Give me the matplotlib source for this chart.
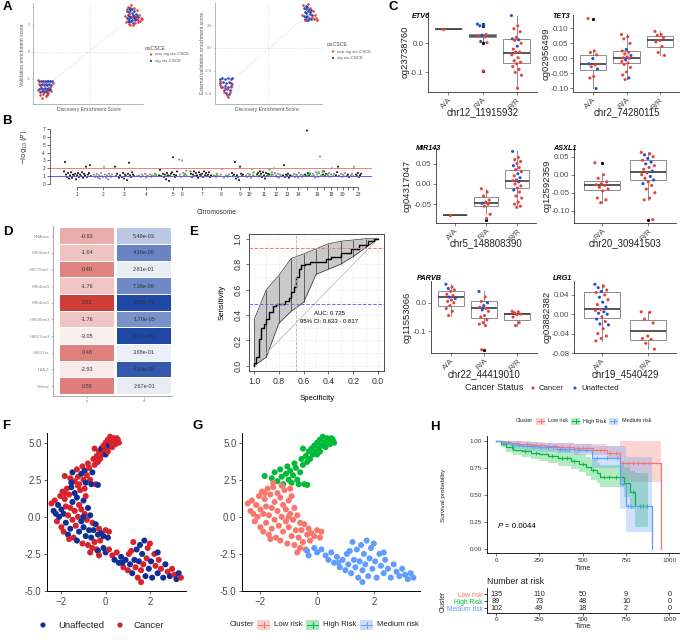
import numpy as np
import matplotlib
matplotlib.use("Agg")
import matplotlib.pyplot as plt
from matplotlib.colors import LinearSegmentedColormap, Normalize
from matplotlib.patches import Rectangle

plt.rcParams["font.family"] = ["Liberation Sans", "DejaVu Sans"]

# ---------------- A: enrichment scores ----------------
a1_sig_x = [4.1, 4.3, 4.5, 4.7, 4.9, 5.1, 4.2, 4.4, 4.6, 4.8, 5.0, 5.2, 4.1, 4.3, 4.5, 4.7, 4.9, 5.1, 4.2, 4.4, 4.6, 4.8, 5.0, 4.3, 4.5, 4.7, 4.9, 5.3,
            -5.6, -5.4, -5.2, -5.0, -4.8, -4.6, -4.4, -4.2, -5.5, -5.3, -5.1, -4.9, -4.7, -4.5, -4.3, -5.6, -5.4, -5.2, -5.0, -4.8, -4.6, -4.4, -5.5, -5.3, -5.1, -4.9, -4.7, -4.5]
a1_sig_y = [4.5, 4.4, 4.6, 4.3, 4.5, 4.2, 4.1, 4.0, 3.9, 4.1, 3.8, 4.0, 3.7, 3.6, 3.8, 3.5, 3.7, 3.6, 3.4, 3.3, 3.4, 3.2, 3.5, 4.8, 4.9, 4.7, 4.0, 3.9,
            -3.3, -3.2, -3.3, -3.2, -3.3, -3.2, -3.3, -3.2, -3.7, -3.6, -3.7, -3.6, -3.7, -3.6, -3.7, -4.1, -4.0, -4.1, -4.0, -4.1, -4.0, -4.1, -4.5, -4.4, -4.5, -4.4, -4.5, -4.3]
a1_non_x = [3.9, 4.0, 4.2, 4.4, 4.6, 4.8, 5.0, 5.2, 5.4, 5.6, 5.8, 4.5, 4.9, 5.5, 4.1, 5.3, 4.7, 4.4, 5.1, 5.7,
            -5.8, -5.7, -5.5, -5.2, -4.9, -4.6, -4.3, -4.1, -5.3, -5.0, -4.8, -5.4, -4.4, -5.1, -4.7, -5.6]
a1_non_y = [4.0, 3.3, 5.0, 3.1, 5.2, 3.0, 3.2, 4.6, 3.5, 3.4, 3.6, 3.0, 4.8, 4.1, 4.7, 3.3, 3.9, 4.2, 3.9, 3.7,
            -3.1, -4.2, -4.8, -4.7, -4.9, -4.6, -4.4, -3.5, -5.1, -4.3, -4.8, -3.9, -3.9, -3.4, -4.7, -3.6]
a2_sig_x = [3.9, 4.1, 4.3, 4.5, 4.7, 4.0, 4.2, 4.4, 4.6, 4.8, 3.9, 4.1, 4.3, 4.5, 4.7, 4.2, 4.4, 4.6, 4.0, 4.3,
            -5.3, -5.0, -4.7, -4.4, -4.1, -3.9, -5.2, -4.9, -4.6, -4.3, -4.0, -5.0, -4.7, -4.4, -4.1, -4.8, -4.5, -4.2, -4.6, -4.3]
a2_sig_y = [4.4, 4.3, 4.5, 4.2, 4.1, 3.9, 3.8, 4.0, 3.7, 3.6, 3.5, 3.4, 3.5, 3.3, 3.2, 4.6, 3.1, 3.9, 3.2, 3.0,
            -3.4, -3.3, -3.4, -3.3, -3.4, -3.3, -3.8, -3.7, -3.8, -3.7, -3.8, -4.2, -4.1, -4.2, -4.1, -4.6, -4.5, -4.6, -4.9, -5.0]
a2_non_x = [3.7, 3.8, 4.0, 4.4, 4.8, 5.0, 5.2, 5.3, 4.6, 4.2, 4.9, 5.1,
            -5.3, -5.1, -4.8, -4.5, -4.2, -4.0, -4.4, -4.7, -3.9, -5.2]
a2_non_y = [3.6, 4.7, 3.0, 4.8, 3.4, 3.2, 3.3, 3.1, 4.4, 3.1, 4.0, 3.6,
            -3.6, -4.3, -4.8, -5.1, -4.8, -4.3, -5.3, -4.4, -3.9, -4.0]

# ---------------- B: Manhattan ----------------
chrom_ticks = [77, 103, 124, 146, 173, 182, 202, 221, 240, 249, 264, 276, 287, 298, 307, 317, 324, 331, 337, 343, 348, 353, 358]
chrom_labels = ["1", "2", "3", "4", "5", "6", "7", "8", "9", "10", "11", "12", "13", "14", "", "16", "", "18", "", "20", "", "", "23"]
chrom_edges = [92.5, 113.5, 135.5, 157.5, 178.5, 189, 212.5, 230.5, 245, 255.5, 270, 282, 292, 304, 311, 322, 327, 335, 340, 346, 350, 355]
mh_x = [64, 65, 66, 67, 68, 69, 70, 71, 72, 73, 74, 75, 76, 77, 78, 79, 80, 81, 82, 83, 84, 85, 86, 87, 88, 89, 90, 91,
        94, 95, 96, 97, 98, 99, 100, 101, 102, 103, 104, 105, 106, 107, 108, 109, 110, 111, 112,
        115, 116, 117, 119, 120, 122, 123, 124, 125, 126, 127, 128, 129, 130, 131, 132, 133, 134,
        137, 139, 141, 142, 143, 145, 146, 147, 148, 150, 151, 152, 154, 155, 156,
        159, 160, 161, 163, 164, 165, 166, 167, 168, 169, 170, 171, 172, 173, 174, 175, 176, 177,
        179, 180, 181, 182, 183, 184, 185, 186, 187,
        191, 192, 193, 194, 195, 196, 197, 198, 199, 200, 201, 202, 203, 204, 205, 206, 207, 208, 209, 210, 211,
        214, 216, 217, 219, 221, 222, 224, 226, 228, 229,
        232, 233, 234, 235, 236, 237, 238, 239, 240, 241, 242, 243,
        246, 247, 248, 249, 250, 251, 252, 253, 254,
        257, 258, 259, 260, 261, 262, 263, 264, 265, 266, 267, 268, 269,
        271, 272, 273, 274, 275, 276, 277, 278, 279, 280, 281,
        283, 284, 285, 286, 287, 288, 289, 290, 291,
        293, 294, 295, 296, 297, 298, 299, 300, 301, 302, 303,
        305, 306, 307, 308, 309, 310,
        312, 313, 314, 315, 316, 317, 318, 319, 320, 321,
        323, 324, 325, 326, 328, 329, 330, 331, 332, 333, 334,
        336, 337, 338, 339, 341, 342, 343, 344, 345, 347, 348, 349,
        351, 352, 353, 354, 356, 357, 358, 359, 360, 361]
mh_y = [1.6, 2.8, 1.2, 0.9, 1.4, 0.7, 1.1, 1.5, 0.8, 1.2, 1.0, 1.3, 0.6, 1.1, 1.4, 0.9, 1.2, 1.0, 1.5, 0.8, 1.3, 1.1, 2.2, 0.9, 1.2, 1.4, 2.4, 1.0,
        1.2, 0.9, 1.0, 1.3, 0.8, 1.1, 0.7, 1.4, 1.0, 0.9, 2.2, 1.2, 0.8, 1.1, 0.6, 1.3, 1.0, 0.9, 1.2,
        2.2, 1.0, 1.3, 0.8, 1.1, 0.9, 1.4, 0.7, 1.2, 1.0, 0.5, 1.3, 2.7, 1.1, 0.9, 1.5, 1.2, 1.0,
        1.0, 1.1, 0.9, 1.2, 1.0, 1.3, 0.8, 1.1, 1.0, 1.2, 0.9, 1.1, 1.0, 1.3, 1.1,
        1.1, 1.8, 1.0, 1.3, 0.9, 1.2, 0.6, 1.4, 1.1, 0.4, 1.0, 1.3, 1.5, 3.4, 1.2, 0.9, 1.1, 1.6,
        3.1, 1.2, 0.9, 3.0, 1.4, 1.1, 1.3, 1.7, 1.0,
        1.3, 0.9, 1.2, 1.6, 1.0, 1.4, 1.1, 0.8, 1.5, 1.2, 1.0, 1.3, 0.9, 1.6, 1.1, 1.4, 1.0, 1.2, 1.5, 0.9, 1.1,
        1.1, 0.9, 1.3, 1.0, 1.2, 1.9, 0.8, 1.1, 1.0, 1.2,
        1.4, 1.0, 1.2, 2.8, 0.7, 1.1, 0.9, 0.5, 2.2, 1.3, 1.0, 1.2,
        1.1, 0.9, 1.3, 1.0, 1.2, 0.8, 1.9, 1.1, 1.0,
        1.2, 1.4, 1.0, 1.6, 1.3, 0.9, 1.5, 1.1, 0.7, 1.4, 1.0, 1.3, 1.2,
        1.0, 1.5, 1.2, 2.0, 1.4, 1.1, 0.9, 1.3, 0.8, 1.2, 1.0,
        1.1, 2.4, 0.9, 1.2, 1.0, 1.3, 0.8, 1.1, 1.0,
        1.0, 1.3, 0.9, 1.2, 1.1, 0.8, 1.4, 1.0, 1.2, 0.9, 1.1,
        1.2, 1.0, 6.8, 1.4, 1.1, 1.3,
        1.0, 1.3, 1.1, 0.8, 1.5, 1.2, 0.9, 1.4, 3.5, 1.1,
        1.2, 1.6, 1.0, 1.3, 1.1, 1.4, 0.9, 1.2, 2.0, 1.0, 1.3,
        1.1, 1.5, 2.2, 1.0, 1.3, 0.9, 1.2, 1.0, 1.4, 1.0, 1.2, 0.9,
        1.1, 1.3, 1.0, 2.2, 1.2, 1.0, 1.4, 0.9, 1.1, 1.3]
hl_x = [155, 165, 185, 190, 216, 227, 253, 260, 269, 271, 307, 309, 318, 322, 327]
hl_y = [1.3, 1.2, 1.3, 1.6, 1.2, 1.0, 1.5, 1.2, 1.9, 1.3, 1.2, 1.4, 1.5, 1.7, 1.3]

# ---------------- C: methylation by genotype ----------------
etv6_groups = ["A/A", "R/A", "R/R"]
etv6_vals = [[0.05],
             [0.066, 0.062, 0.06, 0.03, 0.028, 0.025, 0.022, 0.006, 0.002, -0.095],
             [0.095, 0.06, 0.05, 0.04, 0.02, 0.015, 0.012, 0.01, 0.0, -0.01, -0.02, -0.03, -0.03, -0.04, -0.05,
              -0.06, -0.065, -0.07, -0.08, -0.09, -0.1, -0.11, -0.155]]
etv6_status = ["C", "UUUCUCCUCC", "UCCCCUUCCUCCCCCCCCCCCCC"]
etv6_box = [(0.05, 0.05, 0.05, 0.05, 0.05, []), (0.02, 0.026, 0.031, 0.006, 0.031, [0.066, 0.062, 0.06, 0.002, -0.095]),
            (-0.068, -0.032, 0.015, -0.155, 0.095, [])]

tet3_groups = ["A/A", "R/A", "R/R"]
tet3_vals = [[0.133, 0.025, 0.02, 0.012, 0.0, -0.018, -0.022, -0.028, -0.035, -0.06, -0.065, -0.1],
             [0.08, 0.072, 0.065, 0.05, 0.03, 0.025, 0.02, 0.015, 0.01, 0.005, 0.002, 0.0, -0.005, -0.01, -0.015,
              -0.02, -0.03, -0.045, -0.055, -0.065, -0.07],
             [0.09, 0.08, 0.077, 0.07, 0.06, 0.055, 0.04, 0.02, 0.01]]
tet3_status = ["CCCCUUCCUCCU", "CCCCUCCCUCCCUCCCCCCUC", "CCCCCCCCC"]
tet3_box = [(-0.038, -0.018, 0.012, -0.1, 0.025, [0.133]), (-0.016, 0.001, 0.025, -0.07, 0.08, []),
            (0.037, 0.061, 0.074, 0.01, 0.09, [])]

mir143_groups = ["A/A", "R/A", "R/R"]
mir143_vals = [[-0.077],
               [-0.012, -0.02, -0.03, -0.04, -0.045, -0.048, -0.05, -0.055, -0.075, -0.085],
               [0.08, 0.065, 0.06, 0.055, 0.05, 0.045, 0.04, 0.035, 0.03, 0.025, 0.02, 0.015, 0.01, 0.008, 0.005,
                0.0, -0.005, -0.01, -0.015, -0.02, -0.03, -0.035, -0.045, -0.05, -0.055, -0.058]]
mir143_status = ["C", "CCCCCUCCCC", "UCCCCUCCCUCUCCUCCCUCCCCCCC"]
mir143_box = [(-0.077, -0.077, -0.077, -0.077, -0.077, []), (-0.055, -0.047, -0.033, -0.075, -0.012, [-0.088]),
              (-0.01, 0.008, 0.033, -0.058, 0.08, [])]

asxl1_groups = ["R/A", "R/R"]
asxl1_vals = [[0.033, 0.0, -0.01, -0.02, -0.025, -0.028, -0.03, -0.035, -0.04, -0.045, -0.065, -0.07, -0.078],
              [0.062, 0.058, 0.055, 0.05, 0.045, 0.04, 0.035, 0.03, 0.025, 0.02, 0.015, 0.01, 0.005, 0.0, -0.005,
               -0.01, -0.015, -0.02, -0.025, -0.03, -0.04, -0.05, -0.065, -0.07, -0.125]]
asxl1_status = ["CCCCCCCCCCCCC", "CCUCUCUUCCCUCCUCUCUCCCCCC"]
asxl1_box = [(-0.043, -0.028, -0.018, -0.078, 0.0, [0.033]), (-0.015, 0.007, 0.04, -0.07, 0.062, [-0.125])]

parvb_groups = ["A/A", "R/A", "R/R"]
parvb_vals = [[0.065, 0.055, 0.05, 0.045, 0.04, 0.03, 0.025, 0.02, 0.015, 0.01, 0.005, 0.0, -0.01, -0.02, -0.03, -0.045],
              [0.04, 0.02, 0.005, 0.0, -0.01, -0.015, -0.02, -0.025, -0.03, -0.045, -0.05, -0.06, -0.07, -0.075, -0.08, -0.165],
              [-0.03, -0.032, -0.035, -0.04, -0.042, -0.05, -0.07, -0.08]]
parvb_status = ["UCUCCCCUUCCCCCCC", "UCCUUCCUCCCCCCCC", "CCCCCCCC"]
parvb_box = [(-0.01, 0.02, 0.04, -0.045, 0.065, []), (-0.055, -0.02, 0.005, -0.08, 0.04, [-0.165]),
             (-0.06, -0.04, -0.035, -0.08, -0.03, [])]

lrg1_groups = ["A/A", "R/A"]
lrg1_vals = [[0.062, 0.058, 0.055, 0.05, 0.047, 0.045, 0.04, 0.035, 0.03, 0.025, 0.02, 0.015, 0.01, 0.008, 0.005,
              0.002, 0.0, -0.005, -0.01, -0.015, -0.02, -0.022, -0.03, -0.04, -0.045, -0.05, -0.055],
             [0.005, 0.004, -0.01, -0.018, -0.045, -0.05, -0.052, -0.06, -0.072]]
lrg1_status = ["UCUCUCCUCUCUCCUUUCUCUUCCCCC", "CCCCCCCCC"]
lrg1_box = [(-0.008, 0.01, 0.046, -0.055, 0.062, []), (-0.053, -0.035, -0.012, -0.072, 0.005, [])]

# ---------------- D: chromatin enrichment ----------------
marks = ["RNAseq", "H3K9me3", "H3K79me2", "H3K4me3", "H3K4me1", "H3K36me3", "H3K27me3", "H3K27ac", "H2A.Z", "DNase"]
mark_p = [-0.93, -1.64, 0.40, -1.76, 2.62, -1.76, -3.05, 0.48, -2.93, 0.55]
mark_d = [5.46e-03, 4.16e-06, 2.81e-01, 7.38e-06, 6.55e-09, 1.70e-05, 6.37e-09, 3.68e-01, 4.13e-08, 2.67e-01]

# ---------------- E: ROC ----------------
roc_spec = [1.0, 1.0, 0.98, 0.98, 0.96, 0.96, 0.94, 0.94, 0.92, 0.92, 0.90, 0.90, 0.88, 0.88, 0.85, 0.85, 0.82, 0.82,
            0.75, 0.75, 0.72, 0.72, 0.70, 0.70, 0.68, 0.68, 0.66, 0.66, 0.64, 0.64, 0.62, 0.62, 0.59, 0.59, 0.55, 0.55,
            0.42, 0.42, 0.38, 0.38, 0.30, 0.30, 0.22, 0.22, 0.15, 0.15, 0.08, 0.08, 0.03, 0.03, 0.0]
roc_sens = [0.0, 0.02, 0.02, 0.07, 0.07, 0.21, 0.21, 0.30, 0.30, 0.33, 0.33, 0.37, 0.37, 0.42, 0.42, 0.47, 0.47, 0.49,
            0.49, 0.51, 0.51, 0.53, 0.53, 0.58, 0.58, 0.62, 0.62, 0.70, 0.70, 0.76, 0.76, 0.79, 0.79, 0.80, 0.80, 0.82,
            0.82, 0.84, 0.84, 0.86, 0.86, 0.89, 0.89, 0.92, 0.92, 0.95, 0.95, 0.98, 0.98, 1.0, 1.0]
ci_spec = [1.0, 0.9, 0.8, 0.7, 0.6, 0.5, 0.4, 0.3, 0.2, 0.1, 0.0]
ci_lo = [0.0, 0.07, 0.335, 0.43, 0.50, 0.72, 0.76, 0.80, 0.86, 0.93, 1.0]
ci_hi = [0.36, 0.60, 0.71, 0.845, 0.88, 0.92, 0.96, 0.98, 0.99, 1.0, 1.0]

# ---------------- F/G: UMAP ----------------
high_x = [-1.85, -1.6, -1.5, -1.4, -1.3, -1.25, -1.1, -1.05, -1.0, -0.95, -0.85, -0.8, -0.75, -0.7, -0.6, -0.55, -0.5, -0.45,
          -0.4, -0.35, -0.3, -0.25, -0.2, -0.15, -0.1, -0.05, 0.0, 0.05, 0.1, 0.15, 0.2, 0.25, 0.3, 0.35, 0.4, 0.45, 0.5,
          0.55, 0.6, -1.2, -0.9, -0.65, -0.35, 0.0, -0.5, 0.1]
high_y = [2.75, 2.6, 3.0, 2.4, 3.2, 2.7, 2.9, 3.4, 2.5, 3.1, 2.8, 3.6, 3.3, 2.5, 3.0, 3.9, 3.5, 2.2, 4.1, 3.7, 4.4, 3.9,
          4.6, 4.2, 4.8, 4.4, 5.0, 4.6, 5.2, 4.8, 5.4, 5.0, 4.7, 5.3, 5.1, 4.9, 5.3, 5.2, 5.0, 2.2, 2.3, 2.2, 2.15, 4.2,
          4.6, 4.4]
high_status = "CCUCCCUCCUCCCCUCCCCCCCUCCCCCCUCCCCCCCCCCUUUUCC"
low_x = [-2.45, -2.35, -2.3, -2.2, -2.15, -2.1, -2.05, -2.0, -2.0, -1.95, -1.9, -1.9, -1.85, -1.8, -1.8, -1.75, -1.7, -1.7,
         -1.65, -1.6, -1.6, -1.55, -1.5, -1.5, -1.45, -1.4, -1.4, -1.35, -1.3, -1.3, -1.25, -1.2, -1.2, -1.15, -1.1, -1.1,
         -1.05, -1.0, -1.0, -0.95, -0.9, -0.9, -0.85, -0.8, -0.8, -0.75, -0.7, -0.7, -0.65, -0.6, -0.6, -0.55, -0.5, -0.45,
         -0.4, -0.35, -0.3, -0.25, -0.2, -0.1, 0.0, 0.1, 0.15, -1.85, -1.55, -1.25, -0.95, -2.25, -1.65, -1.0]
low_y = [0.9, 0.4, 1.1, -0.3, 0.8, 0.0, 1.4, -0.7, 0.5, 1.7, -1.0, 0.2, 1.2, -0.4, 0.7, 1.9, -1.2, 0.1, 1.5, -0.8, 0.6,
         2.0, -0.2, 1.0, -1.4, 0.4, 1.6, -0.6, 1.3, -1.6, 0.0, 0.8, -1.0, 1.8, -0.3, 0.5, -1.8, 1.1, -0.7, 0.2, -1.3, 1.4,
         -0.2, 0.6, -1.9, -0.9, 0.1, -2.4, -1.4, -0.4, -2.1, -0.9, -1.7, -0.5, -2.2, -1.2, -0.8, -1.6, -1.1, -1.3, -0.9,
         -1.4, -1.0, 1.6, 2.3, 2.1, 1.9, 0.2, -1.5, 0.0]
low_status = "CUCCUUCCUCCUCUCCUCCUCUCUCCUCUUCCUCUCCUUCUCCUCUUCUCCUCUCUCCUUCUCCUCCUCU"
med_x = [-0.35, -0.3, -0.1, 0.0, 0.15, 0.3, 0.4, 0.5, 0.6, 0.7, 0.8, 0.9, 1.0, 1.05, 1.1, 1.2, 1.25, 1.3, 1.35, 1.4,
         1.45, 1.5, 1.55, 1.6, 1.6, 1.65, 1.7, 1.75, 1.8, 1.85, 1.9, 1.95, 2.0, 2.05, 2.1, 2.2, 2.25, 2.35, 2.4, 2.5,
         2.6, 2.7, 2.8, 2.9, 3.0, 3.1, 3.2, 3.3, 3.4, 2.35, 1.15, 0.75]
med_y = [-2.3, -2.6, -2.1, -2.4, -2.2, -2.6, -2.9, -2.4, -3.1, -2.7, -3.4, -2.9, -3.6, -2.5, -3.2, -3.8, -1.7, -2.9,
         -3.4, -2.2, -4.1, -3.0, -1.9, -3.6, -4.4, -2.5, -3.2, -1.6, -4.0, -2.8, -2.1, -3.5, -1.8, -3.0, -4.1, -2.5,
         -3.3, -3.8, -2.9, -3.5, -4.1, -3.2, -3.7, -4.0, -3.5, -3.9, -4.2, -3.8, -4.1, -2.4, -2.3, -3.1]
med_status = "UCUUCCUCUUCUCCUUCUCUCUUCCUCUUCCUCUUCCUCCUUCUCCUUCUCU"

# ---------------- H: Kaplan-Meier ----------------
km_low_t = [0, 40, 80, 130, 200, 280, 360, 450, 560, 640, 715, 952]
km_low_s = [1.0, 0.99, 0.98, 0.97, 0.96, 0.95, 0.94, 0.935, 0.92, 0.89, 0.80, 0.0]
km_low_lo = [1.0, 0.97, 0.955, 0.94, 0.93, 0.915, 0.9, 0.89, 0.87, 0.83, 0.62, 0.0]
km_low_hi = [1.0, 1.0, 1.0, 1.0, 0.99, 0.985, 0.98, 0.975, 0.97, 0.95, 1.0, 0.0]
km_low_cens = [70, 120, 180, 230, 260, 300, 340, 380, 420, 470, 500, 530, 600, 620, 660, 690, 730, 760, 790, 820, 850, 880]
km_high_t = [0, 30, 60, 100, 150, 200, 250, 300, 360, 430, 480, 520, 550, 580, 600, 740, 770, 800, 877]
km_high_s = [1.0, 0.97, 0.94, 0.92, 0.905, 0.89, 0.875, 0.86, 0.84, 0.815, 0.79, 0.76, 0.73, 0.70, 0.67, 0.61, 0.53, 0.40, 0.40]
km_high_lo = [1.0, 0.94, 0.9, 0.87, 0.85, 0.83, 0.81, 0.795, 0.77, 0.74, 0.71, 0.68, 0.64, 0.61, 0.57, 0.48, 0.37, 0.20, 0.20]
km_high_hi = [1.0, 1.0, 0.98, 0.97, 0.96, 0.95, 0.94, 0.93, 0.915, 0.895, 0.875, 0.85, 0.83, 0.80, 0.78, 0.76, 0.72, 0.70, 0.70]
km_high_cens = [90, 170, 230, 320, 380, 410, 450, 500, 560, 620, 650, 690, 790, 830, 850, 870]
km_med_t = [0, 40, 90, 150, 250, 350, 450, 554, 717, 752, 900]
km_med_s = [1.0, 0.98, 0.96, 0.95, 0.94, 0.93, 0.92, 0.845, 0.60, 0.40, 0.0]
km_med_lo = [1.0, 0.95, 0.93, 0.91, 0.9, 0.885, 0.87, 0.75, 0.37, 0.16, 0.0]
km_med_hi = [1.0, 1.0, 1.0, 0.99, 0.985, 0.98, 0.975, 0.95, 0.95, 0.85, 0.0]
km_med_cens = [50, 100, 130, 180, 220, 260, 300, 330, 370, 400, 420, 480, 520, 580, 640, 700, 730, 760, 780]
risk_times = [0, 250, 500, 750, 1000]
risk_low = [135, 110, 50, 9, 0]
risk_high = [89, 73, 48, 10, 0]
risk_med = [102, 49, 18, 2, 0]

# ---------------- colours ----------------
A_RED, A_BLUE = "#e23b3b", "#2346b8"
C_CANCER, C_UNAFF = "#e8413c", "#2452c8"
F_CANCER, F_UNAFF = "#d8232c", "#0f2f96"
K_LOW, K_HIGH, K_MED = "#F8766D", "#00BA38", "#619CFF"
TXT = "#4d4d4d"

W, H = 680, 640
fig = plt.figure(figsize=(W / 100, H / 100), dpi=100)


def px_axes(l, t, r, b):
    return fig.add_axes([l / W, 1 - b / H, (r - l) / W, (b - t) / H])


def clean(ax, color="black", lw=0.6):
    for sp in ["top", "right"]:
        ax.spines[sp].set_visible(False)
    for sp in ["left", "bottom"]:
        ax.spines[sp].set_color(color)
        ax.spines[sp].set_linewidth(lw)


# ---------- A ----------
def enrich_panel(box, sx, sy, nx, ny, xlim, ylim, yticks, ylabels):
    ax = px_axes(*box)
    dot = (0, (1, 1.5))
    ax.axhline(0, color="#d0d0d0", lw=0.5, ls=dot, zorder=0)
    ax.axvline(0, color="#d0d0d0", lw=0.5, ls=dot, zorder=0)
    allx = np.r_[sx, nx]
    ally = np.r_[sy, ny]
    k, b = np.polyfit(allx, ally, 1)
    xs = np.array([allx.min(), allx.max()])
    ax.plot(xs, k * xs + b, color="#c8c8c8", lw=0.5, ls=dot, zorder=0)
    ax.scatter(sx, sy, s=3.5, color=A_BLUE, lw=0)
    ax.scatter(nx, ny, s=3.5, color=A_RED, lw=0)
    ax.set_xlim(*xlim)
    ax.set_ylim(*ylim)
    ax.set_xticks([])
    ax.set_yticks(yticks, ylabels)
    ax.tick_params(axis="y", labelsize=3, colors="#777777", length=1, width=0.4, pad=1)
    clean(ax, "#aaaaaa", 0.6)


enrich_panel((33, 3, 143, 104), a1_sig_x, a1_sig_y, a1_non_x, a1_non_y, (-6.3, 5.9), (-5.8, 5.4),
             [3, 0, -3], ["3", "0", "-3"])
enrich_panel((215, 3, 322, 104), a2_sig_x, a2_sig_y, a2_non_x, a2_non_y, (-5.8, 5.9), (-6.1, 4.9),
             [2.5, 0, -2.5, -5], ["2.5", "0.0", "-2.5", "-5.0"])

# ---------- B ----------
ax = px_axes(50, 125, 372, 187)
mh_x_arr = np.array(mh_x)
chrom_idx = np.searchsorted(chrom_edges, mh_x_arr)
mh_cols = np.where(chrom_idx % 2 == 0, "#1a1a1a", "#8f8f8f")
ax.scatter(mh_x, mh_y, s=2.2, c=mh_cols, lw=0)
ax.scatter(hl_x, hl_y, s=3, color="#22cc22", lw=0)
ax.axhline(2, color="#f28080", lw=0.7)
ax.axhline(1, color="#5a5af0", lw=0.7)
ax.set_xlim(50, 372)
ax.set_ylim(-0.38, 7.5)
ax.set_yticks(range(8))
ax.set_xticks(chrom_ticks, chrom_labels)
ax.tick_params(labelsize=3.5, length=2, width=0.5, pad=1.5, colors="#333333")
clean(ax, "#333333", 0.5)
ax.spines["left"].set_bounds(0, 7)
ax.spines["bottom"].set_bounds(chrom_ticks[0], chrom_ticks[-1])

# ---------- C ----------
c_layout = [
    ("ETV6", "cg23738760", "chr12_11915932", etv6_groups, etv6_vals, etv6_status, etv6_box,
     (428, 12, 537, 92), (-0.1675, 0.1075), [0.0, -0.1], ["0.0", "-0.1"], 412, 17, 405, 112),
    ("TET3", "cg02956499", "chr2_74280115", tet3_groups, tet3_vals, tet3_status, tet3_box,
     (573, 15, 680, 92), (-0.1117, 0.1447), [0.10, 0.05, 0.0, -0.05, -0.10], ["0.10", "0.05", "0.00", "-0.05", "-0.10"],
     552, 17, 546, 112),
    ("MIR143", "cg04317047", "chr5_148808390", mir143_groups, mir143_vals, mir143_status, mir143_box,
     (436, 148, 536, 223), (-0.0964, 0.0884), [0.05, 0.0, -0.05], ["0.05", "0.00", "-0.05"], 416, 149, 407, 243),
    ("ASXL1", "cg12592359", "chr20_30941503", asxl1_groups, asxl1_vals, asxl1_status, asxl1_box,
     (574, 149, 676, 223), (-0.1344, 0.0714), [0.05, 0.0, -0.05, -0.10], ["0.05", "0.00", "-0.05", "-0.10"],
     553, 149, 547, 243),
    ("PARVB", "cg11553066", "chr22_44419010", parvb_groups, parvb_vals, parvb_status, parvb_box,
     (431, 281, 537, 353), (-0.1765, 0.0765), [0.0, -0.1], ["0.0", "-0.1"], 417, 279, 407, 374),
    ("LRG1", "cg03882382", "chr19_4540429", lrg1_groups, lrg1_vals, lrg1_status, lrg1_box,
     (574, 281, 676, 353), (-0.0787, 0.0687), [0.04, 0.0, -0.04, -0.08], ["0.04", "0.00", "-0.04", "-0.08"],
     553, 279, 547, 374),
]
c_text = []
for (gene, cg, snp, groups, vals, status, boxes, box, ylim, yt, ytl, tx, ty, ylx, xly) in c_layout:
    ax = px_axes(*box)
    n = len(groups)
    pos = np.arange(1, n + 1)
    stats = [dict(q1=q1, med=md, q3=q3, whislo=lo, whishi=hi, fliers=fl) for (q1, md, q3, lo, hi, fl) in boxes]
    ax.bxp(stats, positions=pos, widths=0.78, showcaps=False, patch_artist=True,
           boxprops=dict(facecolor="white", edgecolor="#7a7a7a", lw=0.6),
           medianprops=dict(color="#3a3a3a", lw=1.2),
           whiskerprops=dict(color="#7a7a7a", lw=0.6),
           flierprops=dict(marker="o", markerfacecolor="black", markeredgecolor="none", markersize=2.3))
    for i in range(n):
        v = np.asarray(vals[i])
        st = status[i].ljust(len(v), "C")
        jit = ((np.arange(len(v)) * 0.618034) % 1 - 0.5) * 0.3
        cols = [C_CANCER if c == "C" else C_UNAFF for c in st[:len(v)]]
        ax.scatter(pos[i] + jit, v, s=5, c=cols, lw=0, zorder=3)
    ax.set_xlim(0.4, n + 0.6)
    ax.set_ylim(*ylim)
    ax.set_yticks(yt, ytl)
    ax.set_xticks(pos, groups)
    ax.tick_params(labelsize=5.8, colors=TXT, length=2, width=0.5, pad=1.2)
    ax.tick_params(axis="x", labelrotation=45)
    for lab in ax.get_xticklabels():
        lab.set_ha("right")
        lab.set_va("top")
        lab.set_rotation_mode("anchor")
    clean(ax, "#333333", 0.6)
    c_text.append((gene, cg, snp, tx, ty, ylx, (box[1] + box[3]) / 2, (box[0] + box[2]) / 2, xly))

# ---------- D ----------
ax = px_axes(53, 226, 172, 396)
cmap_p = LinearSegmentedColormap.from_list("pc", ["#faf0f0", "#cf3b36"])
cmap_d = LinearSegmentedColormap.from_list("dc", ["#ecf0f7", "#1e47a6"])
p_cols = cmap_p(Normalize(-3.1, 2.7)(np.array(mark_p)))
d_cols = cmap_d(Normalize(0.4, 8.2)(-np.log10(mark_d)))
rows = np.arange(len(marks))
ax.barh(rows, 0.95, left=-0.475, height=0.94, color=p_cols)
ax.barh(rows, 0.95, left=0.525, height=0.94, color=d_cols)
for r, pv, dv in zip(rows, mark_p, mark_d):
    ax.text(0, r, f"{pv:.2f}", ha="center", va="center", fontsize=4, color="#333333")
    ax.text(1, r, f"{dv:.2e}", ha="center", va="center", fontsize=4, color="#333333")
ax.set_xlim(-0.6, 1.49)
ax.set_ylim(len(marks) - 0.4, -0.62)
ax.set_yticks(rows, marks)
ax.set_xticks([0, 1], ["p", "d"])
ax.tick_params(labelsize=3, colors="#888888", length=1.5, width=0.4, pad=1)
clean(ax, "#aaaaaa", 0.7)

# ---------- E ----------
ax = px_axes(249, 234, 384, 371)
for g in np.arange(0, 1.01, 0.1):
    ax.axvline(g, color="#e2e2e2", lw=0.5, ls=(0, (1, 1.5)), zorder=0)
    ax.axhline(g, color="#e2e2e2", lw=0.5, ls=(0, (1, 1.5)), zorder=0)
ax.fill_between(ci_spec, ci_lo, ci_hi, color="#c9c9c9", lw=0, zorder=1)
ax.plot(ci_spec, ci_lo, color="#333333", lw=0.5, zorder=2)
ax.plot(ci_spec, ci_hi, color="#333333", lw=0.5, zorder=2)
ax.vlines(ci_spec, ci_lo, ci_hi, color="#333333", lw=0.5, zorder=2)
ax.plot([1, 0], [0, 1], color="#bdbdbd", lw=0.6, zorder=2)
ax.plot(roc_spec, roc_sens, color="black", lw=1.0, zorder=3)
ax.axhline(0.93, color="#f07a7a", ls="--", lw=0.7, zorder=4)
ax.axhline(0.49, color="#6f6fe8", ls="--", lw=0.7, zorder=4)
ax.axvline(0.66, color="#b0b0b0", ls="--", lw=0.6, zorder=4)
ax.text(0.394, 0.41, "AUC: 0.725", ha="center", va="center", fontsize=4.3)
ax.text(0.394, 0.35, "95% CI: 0.633 - 0.817", ha="center", va="center", fontsize=4.3)
ax.set_xlim(1.04, -0.048)
ax.set_ylim(-0.04, 1.037)
et = [1.0, 0.8, 0.6, 0.4, 0.2, 0.0]
ax.set_xticks(et, [f"{v:.1f}" for v in et])
ax.set_yticks(et, [f"{v:.1f}" for v in et])
ax.tick_params(labelsize=6.3, length=2.5, width=0.5, pad=2, colors="#333333")
for lab in ax.get_yticklabels():
    lab.set_rotation(90)
    lab.set_va("center")
for sp in ax.spines.values():
    sp.set_linewidth(0.6)
    sp.set_color("#333333")

# ---------- F / G ----------
umap_x = high_x + low_x + med_x
umap_y = high_y + low_y + med_y
umap_status = (high_status.ljust(len(high_x), "C")[:len(high_x)] + low_status.ljust(len(low_x), "C")[:len(low_x)]
               + med_status.ljust(len(med_x), "C")[:len(med_x)])
umap_cluster = ["H"] * len(high_x) + ["L"] * len(low_x) + ["M"] * len(med_x)
f_cols = [F_CANCER if s == "C" else F_UNAFF for s in umap_status]
g_cols = [{"H": K_HIGH, "L": K_LOW, "M": K_MED}[c] for c in umap_cluster]
for box, cols in [((47, 433, 186, 591), f_cols), ((242, 433, 420, 591), g_cols)]:
    ax = px_axes(*box)
    ax.scatter(umap_x, umap_y, s=19, c=cols, lw=0)
    ax.set_xlim(-2.65, 3.63)
    ax.set_ylim(-5.0, 5.65)
    ax.set_xticks([-2, 0, 2])
    ax.set_yticks([-5, -2.5, 0, 2.5, 5], ["-5.0", "-2.5", "0.0", "2.5", "5.0"])
    ax.tick_params(labelsize=7, colors=TXT, length=2.5, width=0.6, pad=1.5)
    clean(ax, "black", 0.7)

# ---------- H ----------
ax = px_axes(487, 436, 680, 553)
km_sets = [(km_low_t, km_low_s, km_low_lo, km_low_hi, km_low_cens, K_LOW),
           (km_high_t, km_high_s, km_high_lo, km_high_hi, km_high_cens, K_HIGH),
           (km_med_t, km_med_s, km_med_lo, km_med_hi, km_med_cens, K_MED)]
for t, s, lo, hi, cens, col in km_sets:
    ax.fill_between(t, lo, hi, step="post", color=col, alpha=0.3, lw=0)
for t, s, lo, hi, cens, col in km_sets:
    ax.step(t, s, where="post", color=col, lw=0.9)
    cs = np.asarray(s)[np.searchsorted(t, cens, side="right") - 1]
    ax.plot(cens, cs, "+", color=col, ms=2.8, mew=0.6)
ax.set_xlim(-52, 1061)
ax.set_ylim(-0.037, 1.046)
ax.set_xticks(risk_times)
ax.set_yticks([0, 0.25, 0.5, 0.75, 1.0], ["0.00", "0.25", "0.50", "0.75", "1.00"])
ax.tick_params(labelsize=4.5, colors="#333333", length=2, width=0.5, pad=1.5)
clean(ax, "black", 0.6)

ax = px_axes(487, 588, 680, 613)
for row, vals in enumerate([risk_low, risk_high, risk_med], start=1):
    for t, v in zip(risk_times, vals):
        ax.text(t, row, str(v), ha="center", va="center", fontsize=5.2, color="#222222")
ax.set_xlim(-52, 1061)
ax.set_ylim(3.71, 0.14)
ax.set_xticks(risk_times)
ax.set_yticks([1, 2, 3], ["Low risk", "High Risk", "Medium risk"])
for lab, col in zip(ax.get_yticklabels(), [K_LOW, K_HIGH, K_MED]):
    lab.set_color(col)
ax.tick_params(labelsize=4.8, length=2, width=0.5, pad=1)
ax.tick_params(axis="x", labelsize=4.5, colors="#333333")
clean(ax, "black", 0.6)

# ---------- overlay: labels, legends ----------
ov = fig.add_axes([0, 0, 1, 1])
ov.set_xlim(0, W)
ov.set_ylim(H, 0)
ov.axis("off")

for letter, x, y in [("A", 7, 7), ("B", 7, 121), ("C", 393, 7), ("D", 7.5, 232), ("E", 194, 232),
                     ("F", 6.5, 426), ("G", 198, 426), ("H", 435, 427)]:
    ov.text(x, y, letter, fontsize=9.5, fontweight="bold", ha="center", va="center")

# A labels and legends
ov.text(23, 55, "Validation enrichment score", rotation=90, fontsize=3.6, color="#555555", ha="center", va="center")
ov.text(203, 53, "External validation enrichment score", rotation=90, fontsize=3.6, color="#555555",
        ha="center", va="center")
ov.text(89, 109, "Discovery Enrichment Score", fontsize=3.6, color="#555555", ha="center", va="center")
ov.text(267, 109, "Discovery Enrichment Score", fontsize=3.6, color="#555555", ha="center", va="center")
for lx, ly in [(145, 48), (327, 45)]:
    ov.text(lx, ly, "cisCSCE", fontsize=3.8, color="#444444", va="center")
    ov.scatter([lx + 6, lx + 6], [ly + 6.5, ly + 13], s=2.5, c=[A_RED, A_BLUE], lw=0)
    ov.text(lx + 10, ly + 6.5, "non sig cis-CSCE", fontsize=3.2, color="#555555", va="center")
    ov.text(lx + 10, ly + 13, "sig cis-CSCE", fontsize=3.2, color="#555555", va="center")

# B labels
ov.text(24, 147, r"$-\log_{10}(P)$", rotation=90, fontsize=5, ha="center", va="center", color="#333333")
ov.text(217, 213, "Chromosome", fontsize=4.8, ha="center", va="center", color="#333333")

# C labels
for gene, cg, snp, tx, ty, ylx, ymid, xmid, xly in c_text:
    ov.text(tx, ty, gene, fontsize=5.2, fontweight="bold", style="italic", va="center")
    ov.text(ylx, ymid, cg, rotation=90, fontsize=6.8, ha="center", va="center", color="#222222")
    ov.text(xmid, xly, snp, fontsize=7, ha="center", va="center", color="#222222")
ov.text(465, 388, "Cancer Status", fontsize=6.6, va="center", color="#222222")
ov.scatter([533, 575], [388, 388], s=5, c=[C_CANCER, C_UNAFF], lw=0)
ov.text(539, 388, "Cancer", fontsize=5.6, va="center", color="#222222")
ov.text(581, 388, "Unaffected", fontsize=5.6, va="center", color="#222222")

# E labels
ov.text(222, 302, "Sensitivity", rotation=90, fontsize=5.6, ha="center", va="center")
ov.text(317, 398, "Specificity", fontsize=5.6, ha="center", va="center")

# F legend
ov.scatter([43, 120], [625, 625], s=14, c=[F_UNAFF, F_CANCER], lw=0)
ov.text(58, 625, "Unaffected", fontsize=6.8, va="center", color="#222222")
ov.text(134, 625, "Cancer", fontsize=6.8, va="center", color="#222222")


def key(x0, yc, w, h, col):
    ov.add_patch(Rectangle((x0, yc - h / 2), w, h, facecolor=col, alpha=0.35, lw=0))
    ov.plot([x0 + 1, x0 + w - 1], [yc, yc], color=col, lw=0.7)
    ov.plot([x0 + w / 2, x0 + w / 2], [yc - h * 0.3, yc + h * 0.3], color=col, lw=0.7)


# G legend
ov.text(230, 625, "Cluster", fontsize=5.6, va="center", color="#222222")
for x0, col, lab, tx in [(257, K_LOW, "Low risk", 274), (306, K_HIGH, "High Risk", 323), (360, K_MED, "Medium risk", 377)]:
    key(x0, 625, 13, 10, col)
    ov.text(tx, 625, lab, fontsize=5.6, va="center", color="#222222")

# H legend and labels
ov.text(516, 421, "Cluster", fontsize=3.9, va="center", color="#222222")
for x0, col, lab, tx in [(536, K_LOW, "Low risk", 548), (571, K_HIGH, "High Risk", 583), (609, K_MED, "Medium risk", 622)]:
    key(x0, 421, 9, 7, col)
    ov.text(tx, 421, lab, fontsize=3.9, va="center", color="#222222")
ov.text(443, 495, "Survival probability", rotation=90, fontsize=4.6, ha="center", va="center", color="#222222")
ov.text(583, 568, "Time", fontsize=5.4, ha="center", va="center", color="#222222")
ov.text(498, 527, "P", fontsize=5.7, style="italic", va="center")
ov.text(505, 527, "= 0.0044", fontsize=5.7, va="center")
ov.text(487, 582, "Number at risk", fontsize=6.3, va="center", color="#222222")
ov.text(443, 601, "Cluster", rotation=90, fontsize=4.8, ha="center", va="center", color="#222222")
ov.text(583, 627, "Time", fontsize=5.4, ha="center", va="center", color="#222222")

fig.savefig("out.png", dpi=100)
